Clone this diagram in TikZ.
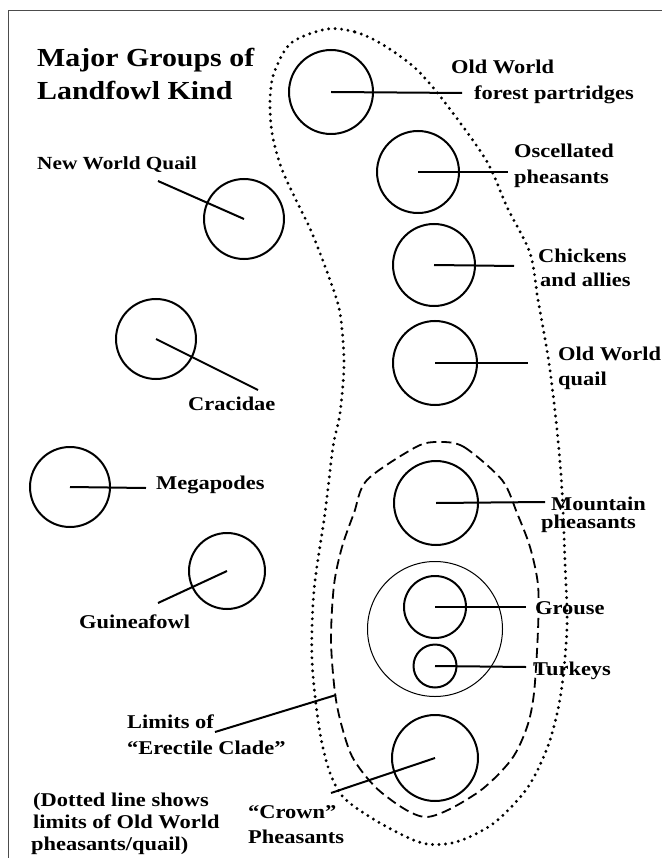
\documentclass[tikz,border=0pt]{standalone}
\usepackage{fontspec}
\setmainfont[FakeStretch=1.15]{Liberation Serif}

\begin{document}
\begin{tikzpicture}[x=1pt,y=-1pt,
  grp/.style={circle,draw,line width=2pt,inner sep=0pt,minimum size=#1},
  lbl/.style={anchor=base west,inner sep=0pt,font=\fontsize{19.5}{22}\selectfont\bfseries},
  link/.style={line width=2pt}]
  \useasboundingbox (0,0) rectangle (662,858);
  \draw[line width=1pt,black!70] (8,858) -- (8,11) -- (662,11);

  % title
  \node[lbl,font=\fontsize{26}{28}\selectfont\bfseries] (T1) at (37,67) {Major Groups of};
  \node[lbl,font=\fontsize{26}{28}\selectfont\bfseries] (T2) at (37,100) {Landfowl Kind};

  % limits of Old World pheasants/quail
  \draw[line width=3.2pt,line cap=round,dash pattern=on 0pt off 6.5pt]
    plot[smooth cycle] coordinates {(327,29) (355,32) (380,43) (414,67) (443,100)
      (486,160) (507,207) (530,253) (538,300) (549,363) (557,430) (562,490)
      (565,563) (567,627) (561,693) (549,743) (528,787) (494,823) (456,842)
      (422,843) (380,823) (344,798) (329,770) (319,727) (312,660) (314,590)
      (325,513) (333,447) (340,413) (344,363) (340,313) (330,280) (312,233)
      (296,200) (281,167) (272,133) (270,100) (274,73) (291,43)};

  % limits of the erectile clade
  \draw[line width=1.8pt,dash pattern=on 10pt off 5pt]
    plot[smooth cycle] coordinates {(439,442) (464,447) (502,480) (517,513)
      (530,547) (538,585) (538,630) (534,693) (527,727) (511,760) (477,793)
      (426,817) (382,793) (354,760) (342,727) (335,693) (331,640) (334,585)
      (342,547) (354,513) (367,480) (416,447)};

  % groups
  \node[grp=84] (owfp) at (331,92) {};
  \node[grp=82] (osc) at (418,172) {};
  \node[grp=82] (chk) at (434,265) {};
  \node[grp=84] (owq) at (435,363) {};
  \node[grp=84] (mtn) at (436,503) {};
  \node[circle,draw,line width=1pt,inner sep=0pt,minimum size=135] (gt) at (435,629) {};
  \node[grp=62] (grs) at (435,607) {};
  \node[grp=43] (tky) at (435,666) {};
  \node[grp=86] (crw) at (435,758) {};
  \node[grp=80] (nwq) at (244,219) {};
  \node[grp=80] (crc) at (156,339) {};
  \node[grp=80] (meg) at (70,487) {};
  \node[grp=76] (gnf) at (227,571) {};

  % labels
  \node[lbl] (owfpa) at (451,74) {Old World};
  \node[lbl] (owfpb) at (474,100) {forest partridges};
  \node[lbl] (osca) at (514,158) {Oscellated};
  \node[lbl] (oscb) at (514,184) {pheasants};
  \node[lbl] (chka) at (538,263) {Chickens};
  \node[lbl] (chkb) at (540,287) {and allies};
  \node[lbl] (owqa) at (558,360) {Old World};
  \node[lbl] (owqb) at (558,385) {quail};
  \node[lbl] (mtna) at (551,510) {Mountain};
  \node[lbl] (mtnb) at (541,528) {pheasants};
  \node[lbl] (grsl) at (535,614) {Grouse};
  \node[lbl] (tkyl) at (533,675) {Turkeys};
  \node[lbl] (crwa) at (248,818) {``Crown''};
  \node[lbl] (crwb) at (248,843) {Pheasants};
  \node[lbl,font=\fontsize{18.5}{22}\selectfont\bfseries] (nwql) at (37,170) {New World Quail};
  \node[lbl] (crcl) at (188,410) {Cracidae};
  \node[lbl] (megl) at (156,489) {Megapodes};
  \node[lbl] (gnfl) at (79,628) {Guineafowl};
  \node[lbl] (lima) at (127,728) {Limits of};
  \node[lbl] (limb) at (127,754) {``Erectile Clade''};
  \node[lbl] (nota) at (33,806) {(Dotted line shows};
  \node[lbl] (notb) at (33,828) {limits of Old World};
  \node[lbl] (notc) at (31,850) {pheasants/quail)};

  % leader ends
  \coordinate (owfpe) at (462,93);
  \coordinate (osce) at (508,172);
  \coordinate (chke) at (514,266);
  \coordinate (owqe) at (528,363);
  \coordinate (mtne) at (545,502);
  \coordinate (grse) at (526,607);
  \coordinate (tkye) at (526,667);
  \coordinate (crwe) at (331,793);
  \coordinate (nwqe) at (158,181);
  \coordinate (crce) at (258,390);
  \coordinate (mege) at (146,488);
  \coordinate (gnfe) at (158,603);
  \coordinate (lime) at (336,695);
  \coordinate (lims) at (215,732);

  \draw[link] (owfp.center) -- (owfpe);
  \draw[link] (osc.center) -- (osce);
  \draw[link] (chk.center) -- (chke);
  \draw[link] (owq.center) -- (owqe);
  \draw[link] (mtn.center) -- (mtne);
  \draw[link] (grs.center) -- (grse);
  \draw[link] (tky.center) -- (tkye);
  \draw[link] (crw.center) -- (crwe);
  \draw[link] (nwq.center) -- (nwqe);
  \draw[link] (crc.center) -- (crce);
  \draw[link] (meg.center) -- (mege);
  \draw[link] (gnf.center) -- (gnfe);
  \draw[link] (lims) -- (lime);
\end{tikzpicture}
\end{document}
